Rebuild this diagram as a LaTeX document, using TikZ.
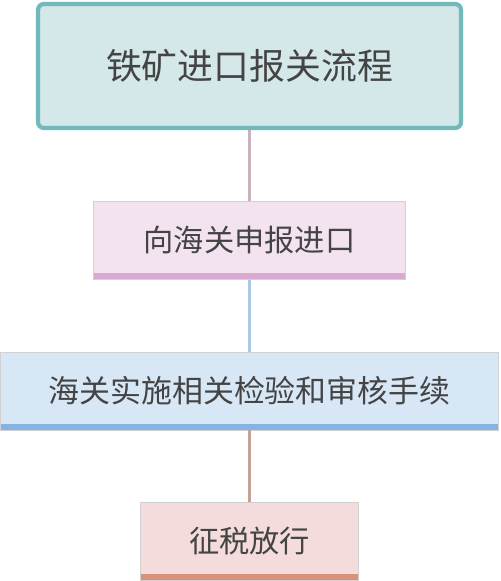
\documentclass[tikz,border=0pt]{standalone}
\usepackage{fontspec}
\setmainfont{Noto Sans CJK SC}
\usetikzlibrary{positioning}

\definecolor{tealline}{HTML}{72B9BA}
\definecolor{tealfill}{HTML}{D4E8EA}
\definecolor{pinkfill}{HTML}{F3E3F1}
\definecolor{pinkbar}{HTML}{DAA9D2}
\definecolor{pinklink}{HTML}{C9B3BF}
\definecolor{bluefill}{HTML}{D8E7F6}
\definecolor{bluebar}{HTML}{85B3E3}
\definecolor{bluelink}{HTML}{A9C9E6}
\definecolor{redfill}{HTML}{F3DCDB}
\definecolor{redbar}{HTML}{D8917D}
\definecolor{redlink}{HTML}{C3A396}
\definecolor{textgray}{HTML}{444444}

\begin{document}
\begin{tikzpicture}[
    title/.style={draw=tealline, fill=tealfill, line width=6pt, rounded corners=0.3cm,
        minimum width=21.15cm, minimum height=6.2cm, text=textgray, font=\fontsize{51}{56}\selectfont},
    stage/.style={draw=black!18, fill=#1fill, line width=0.6pt, minimum height=3.9cm,
        text=textgray, font=\fontsize{43}{50}\selectfont,
        path picture={\fill[#1bar] (path picture bounding box.south west) rectangle ([yshift=0.3cm]path picture bounding box.south east);}},
    link/.style={draw=#1link, line width=4pt}
]
    \useasboundingbox (0,0) rectangle (25,-29.05);

    \node[title] (head) at (12.475,-3.3) {铁矿进口报关流程};
    \node[stage=pink, minimum width=15.6cm, below=3.55cm of head] (declare) {向海关申报进口};
    \node[stage=blue, minimum width=24.9cm, below=3.6cm of declare, font=\fontsize{44}{50}\selectfont] (check) {海关实施相关检验和审核手续};
    \node[stage=red, minimum width=10.9cm, below=3.6cm of check] (release) {征税放行};

    \draw[link=pink] (head) -- (declare);
    \draw[link=blue] (declare) -- (check);
    \draw[link=red] (check) -- (release);
\end{tikzpicture}
\end{document}
